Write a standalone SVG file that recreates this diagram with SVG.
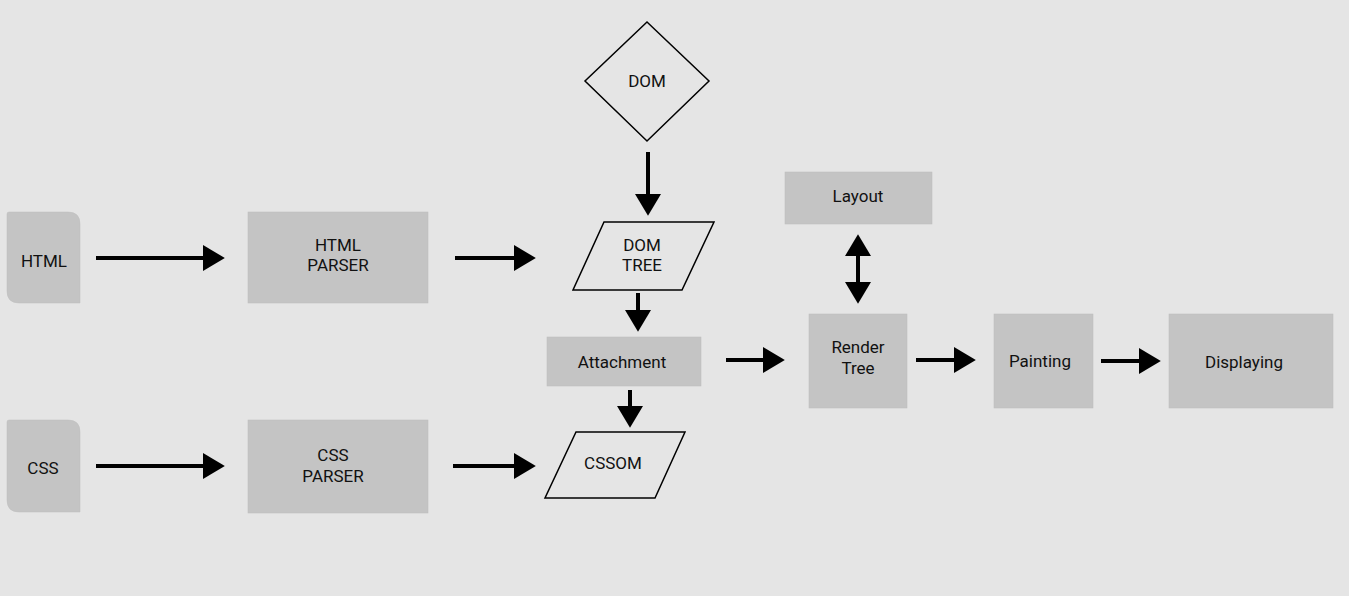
<svg xmlns="http://www.w3.org/2000/svg" width="1349" height="596" viewBox="0 0 1349 596">
<defs>
<style>
.box{fill:#c4c4c4;stroke:#bdbdbd;stroke-width:0.5}
.shape{fill:none;stroke:#000;stroke-width:1.5}
.t{font-family:Roboto,"Liberation Sans",sans-serif;font-size:17px;fill:#111;text-anchor:middle;dominant-baseline:central}
.c{stroke:#000;stroke-width:4;fill:none}
</style>
<marker id="ah" markerUnits="userSpaceOnUse" markerWidth="22" markerHeight="26" viewBox="0 0 21 25" refX="0" refY="12.5" orient="auto-start-reverse">
<path d="M0,0 L21,12.5 L0,25 Z" fill="#000"/>
</marker>
</defs>
<rect width="1349" height="596" fill="#e5e5e5"/>
<g id="html">
<path class="box" d="M9,212 H68 Q80,212 80,224 V303 H19 Q7,303 7,291 V214 Q7,212 9,212 Z"/>
<text class="t" x="44" y="261">HTML</text>
</g>
<g id="html-parser">
<rect class="box" x="248" y="212" width="180" height="91"/>
<text class="t" x="338" y="245">HTML</text>
<text class="t" x="338" y="265">PARSER</text>
</g>
<g id="dom">
<polygon class="shape" points="647,22 709,81 647,141 585,81"/>
<text class="t" x="647" y="81">DOM</text>
</g>
<g id="dom-tree">
<polygon class="shape" points="604,222 714,222 682,290 573,290"/>
<text class="t" x="642" y="245">DOM</text>
<text class="t" x="642" y="265">TREE</text>
</g>
<g id="attachment">
<rect class="box" x="547" y="337" width="154" height="49"/>
<text class="t" x="622" y="362">Attachment</text>
</g>
<g id="cssom">
<polygon class="shape" points="576,432 685,432 655,498 545,498"/>
<text class="t" x="613" y="463">CSSOM</text>
</g>
<g id="css">
<path class="box" d="M9,420 H68 Q80,420 80,432 V512 H19 Q7,512 7,500 V422 Q7,420 9,420 Z"/>
<text class="t" x="43" y="468">CSS</text>
</g>
<g id="css-parser">
<rect class="box" x="248" y="420" width="180" height="93"/>
<text class="t" x="333" y="455">CSS</text>
<text class="t" x="333" y="476">PARSER</text>
</g>
<g id="layout">
<rect class="box" x="785" y="172" width="147" height="52"/>
<text class="t" x="858" y="196">Layout</text>
</g>
<g id="render-tree">
<rect class="box" x="809" y="314" width="98" height="94"/>
<text class="t" x="858" y="347">Render</text>
<text class="t" x="858" y="368">Tree</text>
</g>
<g id="painting">
<rect class="box" x="994" y="314" width="99" height="94"/>
<text class="t" x="1040" y="361">Painting</text>
</g>
<g id="displaying">
<rect class="box" x="1169" y="314" width="164" height="94"/>
<text class="t" x="1244" y="362">Displaying</text>
</g>
<g id="connectors">
<line class="c" x1="96" y1="258" x2="203" y2="258" marker-end="url(#ah)"/>
<line class="c" x1="455" y1="258" x2="514" y2="258" marker-end="url(#ah)"/>
<line class="c" x1="648" y1="152" x2="648" y2="194" marker-end="url(#ah)"/>
<line class="c" x1="638" y1="293" x2="638" y2="310" marker-end="url(#ah)"/>
<line class="c" x1="630" y1="390" x2="630" y2="406" marker-end="url(#ah)"/>
<line class="c" x1="96" y1="466" x2="203" y2="466" marker-end="url(#ah)"/>
<line class="c" x1="453" y1="466" x2="514" y2="466" marker-end="url(#ah)"/>
<line class="c" x1="858" y1="256" x2="858" y2="282" marker-start="url(#ah)" marker-end="url(#ah)"/>
<line class="c" x1="726" y1="360" x2="763" y2="360" marker-end="url(#ah)"/>
<line class="c" x1="916" y1="360" x2="954" y2="360" marker-end="url(#ah)"/>
<line class="c" x1="1101" y1="361" x2="1139" y2="361" marker-end="url(#ah)"/>
</g>
</svg>
